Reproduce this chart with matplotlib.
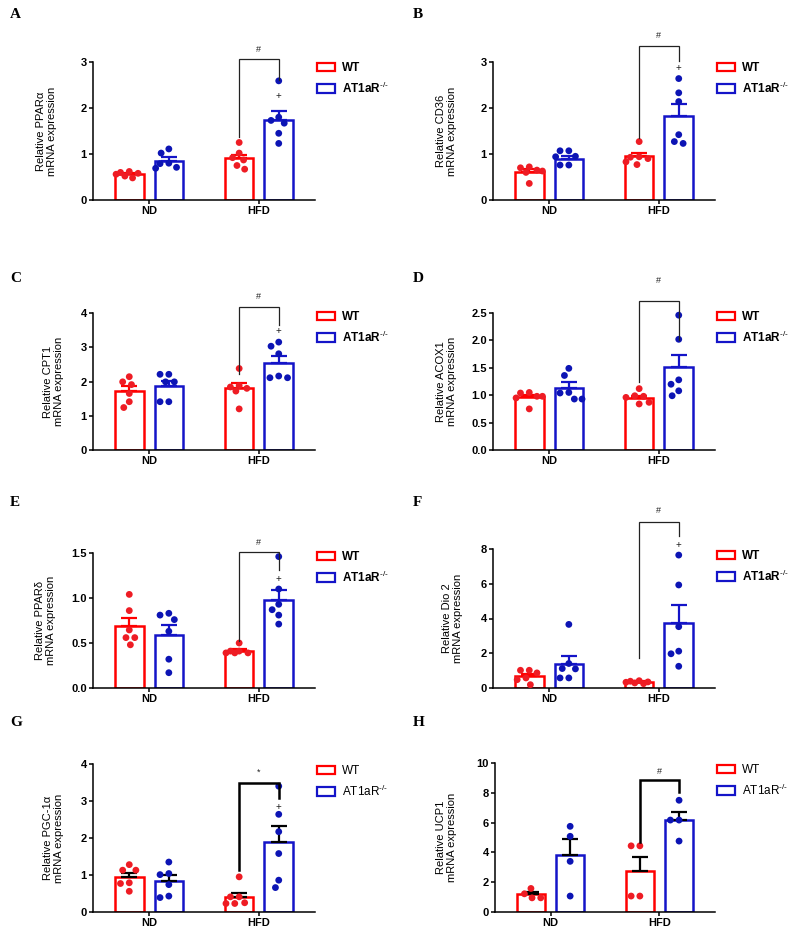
import matplotlib
matplotlib.use('Agg')
import matplotlib.pyplot as plt
import numpy as np
from matplotlib.patches import Patch

plt.rcParams['font.family'] = ['Liberation Sans', 'DejaVu Sans']
plt.rcParams['mathtext.fontset'] = 'custom'
plt.rcParams['mathtext.rm'] = 'Liberation Sans'
plt.rcParams['mathtext.bf'] = 'Liberation Sans:bold'

# ---------------- data ----------------
groups = ['ND', 'HFD']
series = ['WT', 'AT1aR']
letters = ['A', 'B', 'C', 'D', 'E', 'F', 'G', 'H']
genes = ['PPARα', 'CD36', 'CPT1', 'ACOX1', 'PPARδ', 'Dio 2', 'PGC-1α', 'UCP1']
ymax = [3, 3, 4, 2.5, 1.5, 8, 4, 10]
ystep = [1, 1, 1, 0.5, 0.5, 2, 1, 2]
tick_fmt = ['{:.0f}', '{:.0f}', '{:.0f}', '{:.1f}', '{:.1f}', '{:.0f}', '{:.0f}', '{:.0f}']

# order inside each list: ND-WT, ND-AT1aR, HFD-WT, HFD-AT1aR
means_A = [0.56, 0.85, 0.91, 1.75]
sems_A = [0.03, 0.08, 0.07, 0.19]
points_A = [[0.48, 0.52, 0.56, 0.58, 0.60, 0.62],
            [1.11, 1.02, 0.80, 0.69, 0.71, 0.79],
            [1.25, 1.02, 0.87, 0.92, 0.67, 0.75],
            [2.59, 1.80, 1.67, 1.73, 1.45, 1.23]]

means_B = [0.61, 0.90, 0.95, 1.83]
sems_B = [0.06, 0.06, 0.07, 0.25]
points_B = [[0.70, 0.65, 0.63, 0.60, 0.72, 0.36],
            [1.07, 1.07, 0.95, 0.76, 0.76, 0.94],
            [1.27, 0.94, 0.90, 0.77, 0.83, 0.93],
            [2.64, 2.33, 2.14, 1.42, 1.23, 1.27]]

means_C = [1.72, 1.87, 1.80, 2.55]
sems_C = [0.15, 0.15, 0.15, 0.20]
points_C = [[2.14, 1.99, 1.91, 1.65, 1.41, 1.24],
            [2.21, 2.21, 1.99, 1.99, 1.41, 1.41],
            [2.38, 1.88, 1.84, 1.72, 1.80, 1.20],
            [3.15, 3.03, 2.81, 2.16, 2.11, 2.11]]

means_D = [0.96, 1.14, 0.95, 1.51]
sems_D = [0.05, 0.10, 0.04, 0.23]
points_D = [[1.04, 1.05, 0.98, 0.98, 0.95, 0.75],
            [1.49, 1.36, 1.05, 0.93, 0.93, 1.04],
            [1.12, 0.99, 0.96, 0.98, 0.87, 0.84],
            [2.46, 2.02, 1.28, 1.20, 1.08, 0.99]]

means_E = [0.69, 0.59, 0.41, 0.98]
sems_E = [0.09, 0.11, 0.02, 0.11]
points_E = [[1.04, 0.86, 0.645, 0.56, 0.56, 0.48],
            [0.83, 0.81, 0.76, 0.63, 0.32, 0.17],
            [0.50, 0.41, 0.39, 0.39, 0.39, 0.41],
            [1.46, 1.10, 0.93, 0.87, 0.81, 0.71]]

means_F = [0.67, 1.41, 0.35, 3.76]
sems_F = [0.15, 0.46, 0.06, 1.02]
points_F = [[1.02, 1.02, 0.87, 0.58, 0.48, 0.19],
            [3.66, 1.41, 1.12, 1.10, 0.58, 0.58],
            [0.39, 0.29, 0.42, 0.33, 0.25, 0.35],
            [7.65, 5.93, 3.53, 2.12, 1.97, 1.25]]

means_G = [0.95, 0.83, 0.41, 1.89]
sems_G = [0.10, 0.16, 0.11, 0.43]
points_G = [[1.28, 1.13, 1.13, 0.79, 0.77, 0.56],
            [1.35, 1.04, 1.01, 0.74, 0.43, 0.39],
            [0.95, 0.41, 0.41, 0.25, 0.23, 0.23],
            [3.40, 2.64, 2.17, 1.58, 0.86, 0.66]]

means_H = [1.19, 3.85, 2.74, 6.15]
sems_H = [0.15, 1.03, 0.97, 0.55]
points_H = [[1.58, 1.22, 0.95, 0.95],
            [5.75, 5.08, 3.40, 1.07],
            [4.44, 4.44, 1.07, 1.07],
            [7.50, 6.17, 6.17, 4.76]]

all_means = [means_A, means_B, means_C, means_D, means_E, means_F, means_G, means_H]
all_sems = [sems_A, sems_B, sems_C, sems_D, sems_E, sems_F, sems_G, sems_H]
all_points = [points_A, points_B, points_C, points_D, points_E, points_F, points_G, points_H]

# significance annotations: symbol and levels (left leg start, top, right leg end, symbol y, '+' y)
sig_symbols = ['#', '#', '#', '#', '#', '#', '*', '#']
bracket_levels = [(1.38, 3.06, 2.61, 3.28, 2.27),
                  (1.34, 3.34, 3.02, 3.58, 2.86),
                  (2.21, 4.17, 3.66, 4.49, 3.48),
                  (1.25, 2.71, 2.01, 3.10, None),
                  (0.52, 1.51, 1.31, 1.62, 1.21),
                  (1.73, 9.58, 8.77, 10.2, 8.23),
                  (1.13, 3.50, 3.07, 3.79, 2.83),
                  (4.70, 8.88, 8.05, 9.46, None)]

# ---------------- layout (pixels) ----------------
W, H = 800, 931
axes_px = [(93, 62, 315, 200), (493, 62, 715, 200),
           (93, 313, 315, 450), (493, 313, 715, 450),
           (93, 553, 315, 688), (493, 549, 715, 688),
           (93, 764, 315, 912), (495, 763, 715, 912)]
letter_px = [(10, 14), (413, 14), (10, 278), (413, 278),
             (10, 502), (413, 502), (10, 723), (413, 723)]
ylabel_off = [-36, -36, -29, -36, -37, -30, -29, -38]
legend_px = [(317, 62), (717, 62), (317, 311), (717, 311),
             (317, 551), (717, 550), (317, 765), (717, 764)]

RED = '#ff0000'
BLUE = '#1414c8'
RED_DOT = '#ee1c24'
BLUE_DOT = '#0c14b4'

fig = plt.figure(figsize=(W / 100, H / 100), dpi=100)

group_x = np.arange(len(groups))
bar_off = 0.18
bar_w = 0.26
xlim = (-0.51, 1.51)


def swarm(vals, px_x, px_y, d=8.0, max_off=0.12):
    vals = np.asarray(vals, float)
    cands = sorted(np.linspace(-max_off, max_off, 25), key=lambda c: (abs(c), c))
    placed = []
    offs = np.zeros(len(vals))
    for i in np.argsort(-vals):
        best, best_ov = 0.0, None
        for c in cands:
            ov = 0.0
            for o, v in placed:
                dist = np.hypot((c - o) * px_x, (vals[i] - v) * px_y)
                ov = max(ov, d - dist)
            if ov <= 0:
                best, best_ov = c, 0
                break
            if best_ov is None or ov < best_ov:
                best, best_ov = c, ov
        offs[i] = best
        placed.append((best, vals[i]))
    return offs


sup = '$^{\u2010/\u2010}$'

for k in range(8):
    x0, y0, x1, y1 = axes_px[k]
    ax = fig.add_axes([x0 / W, 1 - y1 / H, (x1 - x0) / W, (y1 - y0) / H])
    gh = k >= 6
    means, sems, pts = all_means[k], all_sems[k], all_points[k]
    px_x = (x1 - x0) / (xlim[1] - xlim[0])
    px_y = (y1 - y0) / ymax[k]
    for j in range(4):
        gi, si = j // 2, j % 2
        xc = group_x[gi] + (-bar_off if si == 0 else bar_off)
        edge = RED if si == 0 else BLUE
        dot = RED_DOT if si == 0 else BLUE_DOT
        ax.bar(xc, means[j], width=bar_w, facecolor='white', edgecolor=edge,
               linewidth=1.8, zorder=2)
        ecol = 'black' if gh else edge
        ax.errorbar(xc, means[j], yerr=[[0], [sems[j]]], fmt='none', ecolor=ecol,
                    elinewidth=1.6, capsize=6, capthick=1.6, zorder=3)
        offs = swarm(pts[j], px_x, px_y)
        ax.scatter(xc + offs, pts[j], s=24, color=dot, edgecolors='none', zorder=4,
                   clip_on=False)

    # significance bracket
    ls, top, re, sy, py = bracket_levels[k]
    xl = group_x[1] - bar_off
    xr = group_x[1] + bar_off
    blw = 1.8 if gh else 0.9
    bcol = 'black' if gh else '#222222'
    ax.plot([xl, xl, xr, xr], [ls, top, top, re], color=bcol, lw=blw,
            clip_on=False, zorder=5, solid_joinstyle='miter')
    ax.text((xl + xr) / 2, sy, sig_symbols[k], ha='center', va='center',
            fontsize=6.5, color='#222222')
    if py is not None:
        ax.text(xr, py, '+', ha='center', va='center', fontsize=7, color='#222222')

    ax.set_xlim(*xlim)
    ax.set_ylim(0, ymax[k])
    ticks = np.arange(0, ymax[k] + 1e-9, ystep[k])
    ax.set_yticks(ticks)
    ax.set_yticklabels([tick_fmt[k].format(t) for t in ticks], fontweight='bold', fontsize=8)
    ax.set_xticks(group_x)
    ax.set_xticklabels(groups, fontweight='bold', fontsize=8)
    for s in ['top', 'right']:
        ax.spines[s].set_visible(False)
    for s in ['left', 'bottom']:
        ax.spines[s].set_linewidth(1.1)
    ax.tick_params(axis='both', length=3, width=1.1, pad=1.5)

    ax.set_ylabel('Relative ' + genes[k] + '\nmRNA expression', fontsize=8,
                  linespacing=1.1)
    ax.yaxis.set_label_coords(ylabel_off[k] / (x1 - x0), 0.5)

    handles = [Patch(facecolor='white', edgecolor=RED, linewidth=1.6),
               Patch(facecolor='white', edgecolor=BLUE, linewidth=1.6)]
    lx, ly = legend_px[k]
    ax.legend(handles, ['WT', 'AT1aR' + sup],
              loc='upper left', bbox_to_anchor=(lx / W, 1 - ly / H),
              bbox_transform=fig.transFigure, frameon=False,
              prop={'size': 8.5, 'weight': 'normal' if gh else 'bold'},
              handlelength=1.5, handleheight=0.75, handletextpad=0.6,
              labelspacing=0.55, borderpad=0, borderaxespad=0)

    lx, ly = letter_px[k]
    fig.text(lx / W, 1 - ly / H, letters[k], fontsize=11, fontweight='bold',
             family=['Liberation Serif', 'DejaVu Serif'], ha='left', va='center')

fig.savefig('out.png', dpi=100)
